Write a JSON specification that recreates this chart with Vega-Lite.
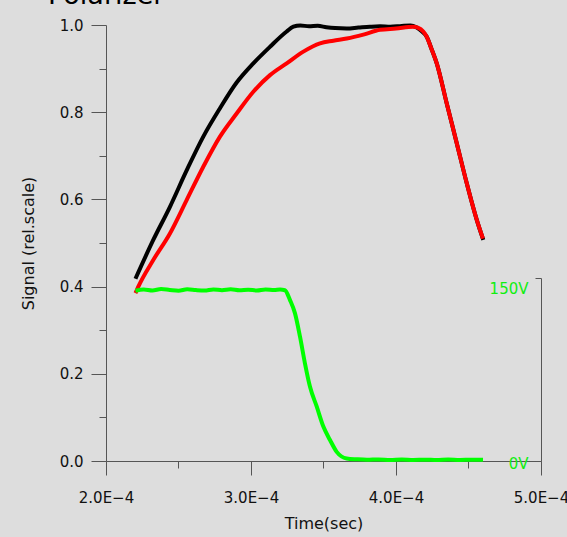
{
  "$schema": "https://vega.github.io/schema/vega-lite/v6.json",
  "width": 435,
  "height": 436,
  "autosize": {"type": "none"},
  "padding": {"left": 106, "top": 25, "right": 26, "bottom": 76},
  "background": "#dddddd",
  "title": {"text": "Polarizer", "anchor": "start", "frame": "group", "fontSize": 27, "fontWeight": "normal", "font": "DejaVu Sans", "color": "#000000", "baseline": "alphabetic", "dx": -58, "offset": -14},
  "config": {
    "view": {"stroke": null},
    "font": "DejaVu Sans",
    "axis": {"domainColor": "#555555", "tickColor": "#555555", "labelColor": "#111111", "titleColor": "#111111", "labelFont": "DejaVu Sans", "titleFont": "DejaVu Sans", "labelFontSize": 15, "titleFontSize": 16, "titleFontWeight": "normal", "grid": false, "labelFlush": false, "labelOverlap": false, "domainWidth": 1, "tickWidth": 1}
  },
  "datasets": {
    "traces": [
      {"t": 0.0002203, "s": 0.418, "series": "black"},
      {"t": 0.0002326, "s": 0.507, "series": "black"},
      {"t": 0.0002441, "s": 0.583, "series": "black"},
      {"t": 0.0002557, "s": 0.667, "series": "black"},
      {"t": 0.0002671, "s": 0.744, "series": "black"},
      {"t": 0.0002786, "s": 0.809, "series": "black"},
      {"t": 0.0002901, "s": 0.868, "series": "black"},
      {"t": 0.0003016, "s": 0.912, "series": "black"},
      {"t": 0.0003131, "s": 0.950, "series": "black"},
      {"t": 0.0003246, "s": 0.985, "series": "black"},
      {"t": 0.0003292, "s": 0.996, "series": "black"},
      {"t": 0.000334, "s": 0.999, "series": "black"},
      {"t": 0.00034, "s": 0.997, "series": "black"},
      {"t": 0.000346, "s": 0.998, "series": "black"},
      {"t": 0.000352, "s": 0.995, "series": "black"},
      {"t": 0.000358, "s": 0.993, "series": "black"},
      {"t": 0.000366, "s": 0.992, "series": "black"},
      {"t": 0.000374, "s": 0.994, "series": "black"},
      {"t": 0.000382, "s": 0.996, "series": "black"},
      {"t": 0.000389, "s": 0.997, "series": "black"},
      {"t": 0.000396, "s": 0.996, "series": "black"},
      {"t": 0.000404, "s": 0.998, "series": "black"},
      {"t": 0.00041, "s": 0.999, "series": "black"},
      {"t": 0.000414, "s": 0.995, "series": "black"},
      {"t": 0.000418, "s": 0.985, "series": "black"},
      {"t": 0.0004212, "s": 0.973, "series": "black"},
      {"t": 0.0004245, "s": 0.945, "series": "black"},
      {"t": 0.0004281, "s": 0.912, "series": "black"},
      {"t": 0.000435, "s": 0.820, "series": "black"},
      {"t": 0.0004419, "s": 0.729, "series": "black"},
      {"t": 0.0004488, "s": 0.637, "series": "black"},
      {"t": 0.0004557, "s": 0.553, "series": "black"},
      {"t": 0.0004602, "s": 0.507, "series": "black"},
      {"t": 0.0002203, "s": 0.385, "series": "red"},
      {"t": 0.0002223, "s": 0.400, "series": "red"},
      {"t": 0.0002326, "s": 0.461, "series": "red"},
      {"t": 0.0002441, "s": 0.522, "series": "red"},
      {"t": 0.0002557, "s": 0.599, "series": "red"},
      {"t": 0.0002671, "s": 0.675, "series": "red"},
      {"t": 0.0002786, "s": 0.744, "series": "red"},
      {"t": 0.0002901, "s": 0.797, "series": "red"},
      {"t": 0.0003016, "s": 0.847, "series": "red"},
      {"t": 0.0003131, "s": 0.885, "series": "red"},
      {"t": 0.0003246, "s": 0.912, "series": "red"},
      {"t": 0.0003361, "s": 0.939, "series": "red"},
      {"t": 0.0003476, "s": 0.958, "series": "red"},
      {"t": 0.0003568, "s": 0.964, "series": "red"},
      {"t": 0.000366, "s": 0.969, "series": "red"},
      {"t": 0.0003775, "s": 0.978, "series": "red"},
      {"t": 0.000389, "s": 0.989, "series": "red"},
      {"t": 0.0004, "s": 0.992, "series": "red"},
      {"t": 0.0004119, "s": 0.996, "series": "red"},
      {"t": 0.000415, "s": 0.994, "series": "red"},
      {"t": 0.0004188, "s": 0.985, "series": "red"},
      {"t": 0.0004212, "s": 0.973, "series": "red"},
      {"t": 0.0004245, "s": 0.945, "series": "red"},
      {"t": 0.0004281, "s": 0.912, "series": "red"},
      {"t": 0.000435, "s": 0.820, "series": "red"},
      {"t": 0.0004419, "s": 0.729, "series": "red"},
      {"t": 0.0004488, "s": 0.637, "series": "red"},
      {"t": 0.0004557, "s": 0.553, "series": "red"},
      {"t": 0.00046, "s": 0.510, "series": "red"}
    ],
    "hv": [
      {"t": 0.0002203, "volts": 139.5},
      {"t": 0.000226, "volts": 140.6},
      {"t": 0.000232, "volts": 139.8},
      {"t": 0.000238, "volts": 140.9},
      {"t": 0.000244, "volts": 140.2},
      {"t": 0.00025, "volts": 139.6},
      {"t": 0.000256, "volts": 140.8},
      {"t": 0.000262, "volts": 140.1},
      {"t": 0.000268, "volts": 139.7},
      {"t": 0.000274, "volts": 140.6},
      {"t": 0.00028, "volts": 140.0},
      {"t": 0.000286, "volts": 140.7},
      {"t": 0.000292, "volts": 139.9},
      {"t": 0.000298, "volts": 140.4},
      {"t": 0.000304, "volts": 139.8},
      {"t": 0.00031, "volts": 140.6},
      {"t": 0.000316, "volts": 140.1},
      {"t": 0.00032, "volts": 140.5},
      {"t": 0.0003234, "volts": 140.0},
      {"t": 0.0003269, "volts": 131.9},
      {"t": 0.0003303, "volts": 121.2},
      {"t": 0.0003338, "volts": 101.9},
      {"t": 0.0003372, "volts": 80.1},
      {"t": 0.0003407, "volts": 60.8},
      {"t": 0.0003453, "volts": 44.7},
      {"t": 0.0003499, "volts": 28.2},
      {"t": 0.0003545, "volts": 17.2},
      {"t": 0.0003591, "volts": 7.5},
      {"t": 0.000366, "volts": 2.1},
      {"t": 0.0003729, "volts": 1.4},
      {"t": 0.00038, "volts": 1.0},
      {"t": 0.000388, "volts": 1.3},
      {"t": 0.000396, "volts": 0.8},
      {"t": 0.000404, "volts": 1.2},
      {"t": 0.000412, "volts": 0.9},
      {"t": 0.00042, "volts": 1.1},
      {"t": 0.000428, "volts": 0.8},
      {"t": 0.000436, "volts": 1.2},
      {"t": 0.000444, "volts": 0.9},
      {"t": 0.000452, "volts": 1.1},
      {"t": 0.00046, "volts": 1.0}
    ]
  },
  "layer": [
    {
      "data": {"name": "traces"},
      "mark": {"type": "line", "strokeWidth": 4, "interpolate": "monotone"},
      "encoding": {
        "x": {"field": "t", "type": "quantitative", "scale": {"domain": [0.0002, 0.0005], "nice": false, "zero": false},
          "axis": {"title": "Time(sec)", "values": [0.0002, 0.00025, 0.0003, 0.00035, 0.0004, 0.00045, 0.0005],
            "labelExpr": "abs(datum.value*1e4 - round(datum.value*1e4)) > 0.25 ? '' : format(datum.value*1e4, '.1f') + 'E−4'",
            "tickSize": {"condition": {"test": "abs(datum.value*1e4 - round(datum.value*1e4)) > 0.25", "value": 7}, "value": 14},
            "labelPadding": 15, "titlePadding": 10}},
        "y": {"field": "s", "type": "quantitative", "scale": {"domain": [0, 1], "nice": false},
          "axis": {"title": "Signal (rel.scale)", "orient": "left", "values": [0, 0.1, 0.2, 0.3, 0.4, 0.5, 0.6, 0.7, 0.8, 0.9, 1.0],
            "labelExpr": "round(datum.value*10) % 2 == 1 ? '' : format(datum.value, '.1f')",
            "tickSize": {"condition": {"test": "round(datum.value*10) % 2 == 1", "value": 7}, "value": 15},
            "labelPadding": 8, "titlePadding": 23}},
        "color": {"field": "series", "type": "nominal", "scale": {"domain": ["black", "red"], "range": ["#000000", "#ff0000"]}, "legend": null}
      }
    },
    {
      "data": {"name": "hv"},
      "mark": {"type": "line", "strokeWidth": 4, "interpolate": "monotone", "color": "#00ff00"},
      "encoding": {
        "x": {"field": "t", "type": "quantitative"},
        "y": {"field": "volts", "type": "quantitative", "scale": {"domain": [0, 150], "range": [436, 253], "nice": false},
          "axis": {"title": null, "orient": "left", "offset": -435, "values": [0, 150], "labelExpr": "datum.value + 'V'",
            "labelColor": "#11ee11", "tickSize": 6, "labelPadding": 7,
            "labelOffset": {"condition": {"test": "datum.value == 150", "value": 10}, "value": 2}}}
      }
    }
  ],
  "resolve": {"scale": {"y": "independent"}, "axis": {"y": "independent"}}
}
